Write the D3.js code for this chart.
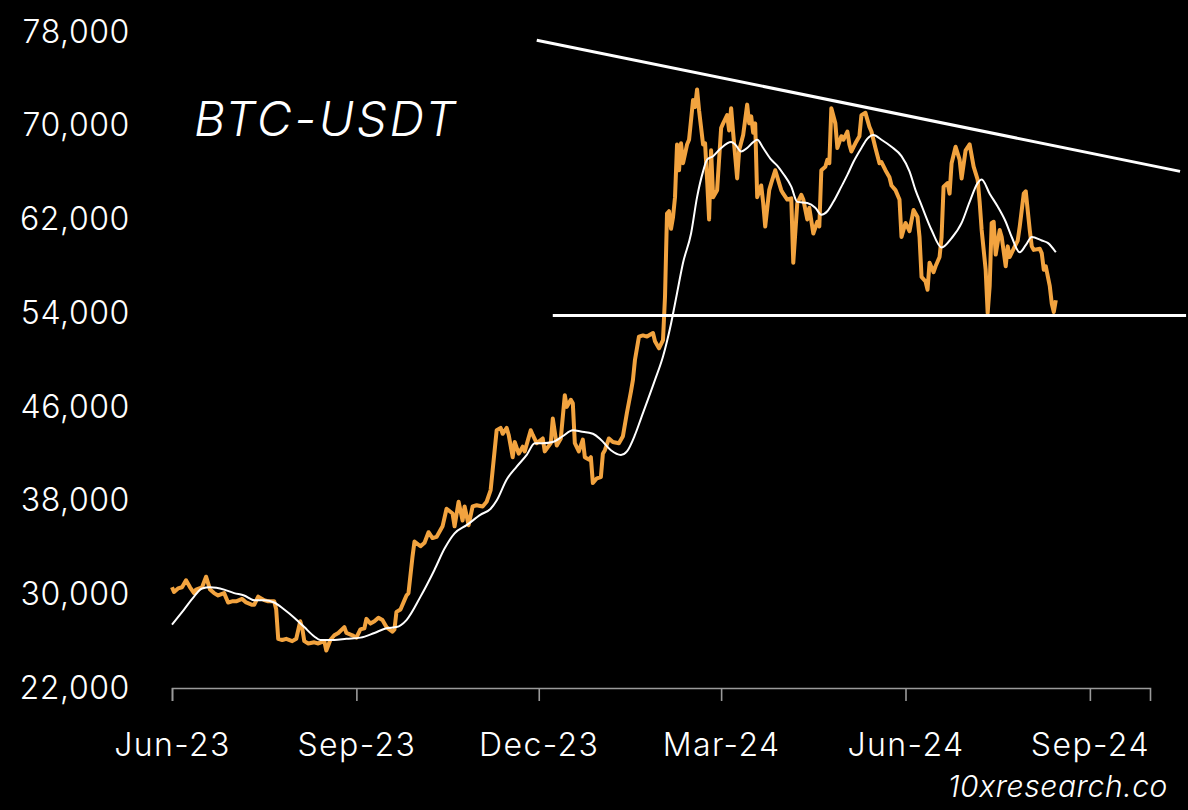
<!DOCTYPE html>
<html>
<head>
<meta charset="utf-8">
<script src="https://cdn.jsdelivr.net/npm/d3@7"></script>
<style>
  html, body { margin: 0; padding: 0; background: #000; }
  svg { display: block; background: #000; }
  svg text { font-family: Inter, "Noto Sans", sans-serif; font-weight: 300; }
  .axis text { fill: #fff; font-size: 32px; }
  .y-axis text { letter-spacing: 0.6px; }
  .x-axis text { letter-spacing: 1.4px; }
  .x-axis path, .x-axis line { stroke: #9a9a9a; stroke-width: 1.6; }
</style>
</head>
<body>
<svg id="chart"></svg>
<script>
// ---- data ----
const startDate = '2023-06-01';

// BTC-USDT close, day offset from startDate
const priceDays = [0,1,3,5,7,9,11,12,15,17,19,21,23,26,28,30,32,35,37,40,41,43,46,48,51,52,53,55,57,60,62,64,65,66,68,71,73,76,77,79,81,83,86,87,90,92,94,96,97,99,101,103,105,107,110,111,112,114,116,117,118,120,121,124,126,128,130,132,135,137,140,141,143,145,146,148,150,152,155,157,159,160,162,164,165,167,168,170,171,173,175,176,179,180,182,185,186,189,190,192,194,196,197,199,200,201,203,205,206,208,209,210,212,214,215,216,218,220,223,225,227,229,230,231,233,235,237,240,241,243,245,246,247,248,249,250,251,252,253,254,255,257,258,260,261,262,263,265,266,267,268,269,270,272,274,275,277,278,279,280,282,283,285,287,288,289,290,291,292,294,295,296,298,299,301,304,305,307,309,310,312,314,315,317,318,320,322,323,324,326,327,328,329,331,332,334,335,337,338,339,341,343,344,346,348,349,351,353,354,356,358,359,361,363,364,366,368,370,372,373,374,376,377,378,380,381,383,384,385,387,388,389,391,393,394,396,398,400,402,403,404,406,407,408,409,410,411,413,414,416,417,418,420,422,423,425,426,428,429,430,433,434,435,436,438,439,440,441];
const priceValues = [30600,30200,30500,30600,31200,30600,30100,30400,30600,31500,30400,30100,29900,30100,29300,29400,29400,29600,29300,29100,29100,29800,29500,29400,29400,28700,26200,26100,26200,26000,26200,27700,27100,26000,25800,25900,25800,26000,25200,26100,26500,26700,27200,26700,26500,26300,27000,27100,27900,27500,27700,28000,27800,27200,26800,27000,28500,28700,29500,29900,30100,33200,34500,34100,34400,35300,34800,34900,35800,37300,36900,35800,37900,36300,37500,35900,37500,37600,37500,37900,38900,40600,44000,44200,43700,44200,43600,41700,43000,42000,42600,42200,44000,43600,42900,43300,42200,42900,45000,42700,43300,47000,46000,46600,46300,42900,42200,43200,41700,41500,41700,39500,39900,40000,42000,42300,43300,43000,42900,43500,45500,47300,48300,50000,52000,52100,52000,52300,51600,51000,51700,55400,62500,62700,61200,62200,63900,68400,66200,68500,66800,68400,68800,72200,71600,73100,71300,68400,68500,65400,62000,67900,63900,64500,69800,70200,70900,69600,71500,69400,65500,67900,69200,71800,70200,70800,69400,70200,63900,64900,63400,61400,64500,65100,66200,64500,64200,63700,63800,58300,63400,64100,63700,62000,63000,60800,61800,61400,66200,66500,67100,66800,71500,70200,68100,69100,68800,69500,68400,67800,68500,69100,70900,71100,69900,69500,68100,66800,66900,66200,65600,64900,64500,63700,60500,61700,61000,62800,62200,60500,57100,56700,56000,58300,57500,58000,58800,60500,64800,65100,64200,66800,68200,67100,65500,67900,68400,66500,65400,63500,61100,57700,54000,56300,61700,61800,59000,61100,60500,58000,59700,58800,59500,60200,61400,64200,64400,61100,59700,59400,59500,59100,57700,58000,56300,54800,54100,55100];

// moving average (white line)
const maDays = [0,6,11,15,19,26,31,36,41,46,51,56,61,66,71,74,81,87,94,101,107,112,117,124,131,136,141,147,154,159,162,167,172,177,181,185,190,195,200,204,210,214,219,224,227,231,234,241,245,249,252,255,259,262,265,267,270,274,279,281,284,287,290,292,295,299,302,305,309,312,317,321,324,327,330,334,337,340,344,347,350,354,359,364,368,371,374,379,384,389,394,398,402,404,408,412,416,419,423,426,429,434,437,441];
const maValues = [27400,28700,29800,30500,30600,30400,30100,29900,29500,29500,29300,28700,28000,27200,26400,26100,26100,26200,26300,26700,27100,27200,27800,29800,32100,33900,35200,35900,36800,37300,38000,39800,40900,41900,42900,42900,43000,43500,44000,43900,43700,43200,42300,41900,42200,43600,45000,48300,50300,53100,55700,58300,60800,63900,66100,67100,67400,68100,68600,68400,67800,68100,68600,68800,68100,67100,66600,65900,64800,63500,63400,63000,62400,62700,63500,64800,65800,66900,68100,68900,69200,68800,68200,67400,66100,64500,63200,61100,59600,60400,61700,63500,65100,65400,64200,63100,61800,60500,59200,59800,60500,60200,60000,59200];

// drawn trend lines
const resistanceDays = [182, 503];
const resistanceValues = [77300, 66100];
const supportDays = [190, 506];
const supportValues = [53800, 53800];

// axes
const yTicks = [22000, 30000, 38000, 46000, 54000, 62000, 70000, 78000];
const xTickDates = ['2023-06-01', '2023-09-01', '2023-12-01', '2024-03-01', '2024-06-01', '2024-09-01'];
const xTickLabels = ['Jun-23', 'Sep-23', 'Dec-23', 'Mar-24', 'Jun-24', 'Sep-24'];
const xDomain = ['2023-06-01', '2024-10-01'];

const titleText = 'BTC-USDT';
const sourceText = '10xresearch.co';

class PriceChart {
  constructor(_config) {
    this.config = {
      parentElement: _config.parentElement,
      containerWidth: _config.containerWidth || 1188,
      containerHeight: _config.containerHeight || 810,
      margin: _config.margin || {top: 32, right: 38, bottom: 122, left: 172}
    };
    this.initVis();
  }

  initVis() {
    let vis = this;
    const parse = d3.utcParse('%Y-%m-%d');
    vis.base = parse(startDate);
    vis.width = vis.config.containerWidth - vis.config.margin.left - vis.config.margin.right;
    vis.height = vis.config.containerHeight - vis.config.margin.top - vis.config.margin.bottom;

    vis.xScale = d3.scaleUtc()
        .domain(xDomain.map(parse))
        .range([0, vis.width]);
    vis.yScale = d3.scaleLinear()
        .domain([22000, 78000])
        .range([vis.height, 0]);

    vis.svg = d3.select(vis.config.parentElement)
        .attr('width', vis.config.containerWidth)
        .attr('height', vis.config.containerHeight);

    vis.chart = vis.svg.append('g')
        .attr('transform', `translate(${vis.config.margin.left},${vis.config.margin.top})`);

    vis.xAxis = d3.axisBottom(vis.xScale)
        .tickValues(xTickDates.map(parse))
        .tickFormat((d, i) => xTickLabels[i])
        .tickSizeOuter(0)
        .tickSize(13)
        .tickPadding(32);

    vis.yAxis = d3.axisLeft(vis.yScale)
        .tickValues(yTicks)
        .tickFormat(d3.format(','))
        .tickSize(0)
        .tickPadding(42);

    vis.xAxisG = vis.chart.append('g')
        .attr('class', 'axis x-axis')
        .attr('transform', `translate(0,${vis.height})`);
    vis.yAxisG = vis.chart.append('g')
        .attr('class', 'axis y-axis');

    vis.svg.append('text')
        .attr('x', 194)
        .attr('y', 136)
        .attr('fill', '#fff')
        .style('font-size', '48px')
        .style('font-style', 'italic')
        .style('letter-spacing', '2.6px')
        .text(titleText);

    vis.svg.append('text')
        .attr('x', 1168)
        .attr('y', 797)
        .attr('text-anchor', 'end')
        .attr('fill', '#fff')
        .style('font-size', '30px')
        .style('font-style', 'italic')
        .style('letter-spacing', '0.6px')
        .text(sourceText);
  }

  updateVis() {
    let vis = this;
    const toDate = d => d3.utcDay.offset(vis.base, d);
    vis.price = priceDays.map((d, i) => ({date: toDate(d), value: priceValues[i]}));
    vis.ma = maDays.map((d, i) => ({date: toDate(d), value: maValues[i]}));
    vis.resistance = resistanceDays.map((d, i) => ({date: toDate(d), value: resistanceValues[i]}));
    vis.support = supportDays.map((d, i) => ({date: toDate(d), value: supportValues[i]}));
    vis.renderVis();
  }

  renderVis() {
    let vis = this;
    const line = d3.line()
        .x(d => vis.xScale(d.date))
        .y(d => vis.yScale(d.value));

    vis.xAxisG.call(vis.xAxis);
    vis.yAxisG.call(vis.yAxis)
        .call(g => g.select('.domain').remove());

    vis.chart.append('path')
        .datum(vis.price)
        .attr('fill', 'none')
        .attr('stroke', '#f2a33f')
        .attr('stroke-width', 4)
        .attr('stroke-linejoin', 'round')
        .attr('d', line);

    vis.chart.append('path')
        .datum(vis.ma)
        .attr('fill', 'none')
        .attr('stroke', '#fff')
        .attr('stroke-width', 2)
        .attr('d', d3.line().curve(d3.curveMonotoneX)
          .x(d => vis.xScale(d.date))
          .y(d => vis.yScale(d.value)));

    [vis.resistance, vis.support].forEach(data => {
      vis.chart.append('path')
          .datum(data)
          .attr('fill', 'none')
          .attr('stroke', '#fff')
          .attr('stroke-width', 3)
          .attr('d', line);
    });
  }
}

const chart = new PriceChart({parentElement: '#chart'});
chart.updateVis();
</script>
</body>
</html>
